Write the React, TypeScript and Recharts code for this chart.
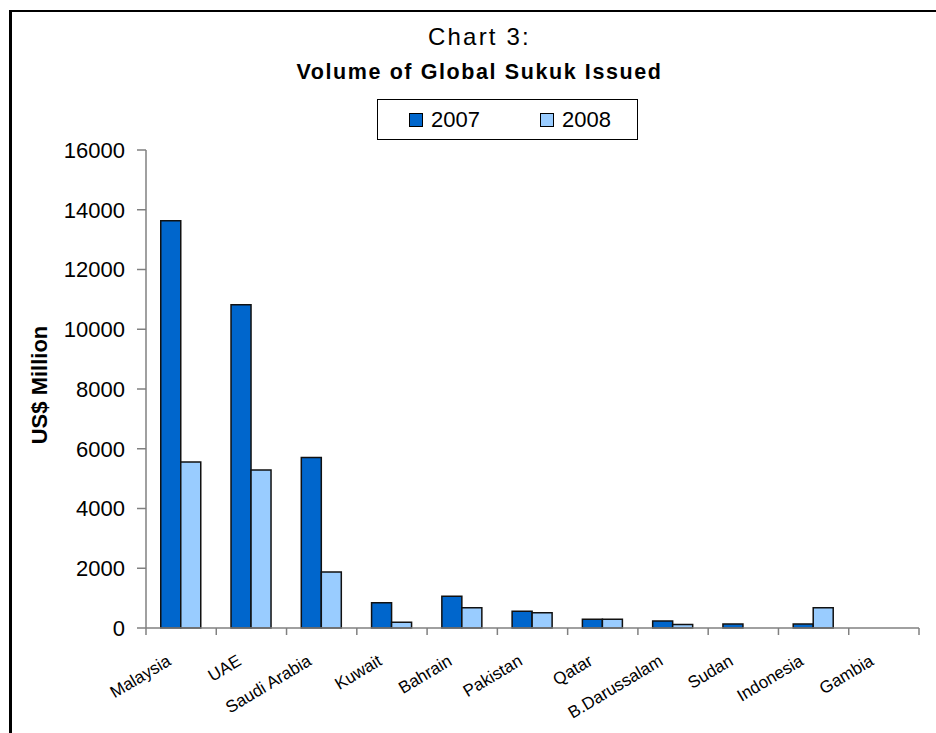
import React from 'react';
import { BarChart, Bar, XAxis, YAxis } from 'recharts';

const categories = ['Malaysia', 'UAE', 'Saudi Arabia', 'Kuwait', 'Bahrain', 'Pakistan', 'Qatar', 'B.Darussalam', 'Sudan', 'Indonesia', 'Gambia'];
const values2007 = [13630, 10820, 5710, 847, 1060, 560, 290, 234, 130, 130, 0];
const values2008 = [5560, 5290, 1875, 190, 680, 512, 290, 120, 0, 680, 0];
const seriesNames = ['2007', '2008'];
const yTicks = [0, 2000, 4000, 6000, 8000, 10000, 12000, 14000, 16000];

const data = categories.map((c, i) => ({ name: c, a: values2007[i], b: values2008[i] }));

const W = 936;
const H = 733;
const PLOT_LEFT = 146;
const PLOT_RIGHT = 919;
const PLOT_TOP = 150;
const PLOT_BOTTOM = 628;
const BAND = (PLOT_RIGHT - PLOT_LEFT) / categories.length;

const FONT = "'Liberation Sans', Arial, Helvetica, sans-serif";
const DARK = '#0066CC';
const LIGHT = '#99CCFF';
const AXIS = '#808080';

const XTick = (props: any) => {
  const { x, y, payload, index } = props;
  const tx = x - 9;
  const ty = y + 36;
  return (
    <g>
      <line x1={x - BAND / 2} x2={x - BAND / 2} y1={y} y2={y + 7} stroke={AXIS} strokeWidth={1.5} />
      {index === categories.length - 1 && (
        <line x1={x + BAND / 2} x2={x + BAND / 2} y1={y} y2={y + 7} stroke={AXIS} strokeWidth={1.5} />
      )}
      <text x={tx} y={ty} textAnchor="end" transform={`rotate(-31, ${tx}, ${ty})`} fontFamily={FONT} fontSize={17} fill="#000">
        {payload.value}
      </text>
    </g>
  );
};

const LegendBox = () => (
  <div
    style={{
      position: 'absolute',
      left: 377,
      top: 99,
      width: 261,
      height: 41,
      boxSizing: 'border-box',
      border: '1.5px solid #000',
      fontFamily: FONT,
      fontSize: 22,
      background: '#fff',
    }}
  >
    {[DARK, LIGHT].map((col, i) => (
      <div key={i} style={{ position: 'absolute', left: i === 0 ? 31 : 162, top: 8, display: 'flex', alignItems: 'center', lineHeight: '24px' }}>
        <span style={{ display: 'inline-block', width: 14, height: 14, background: col, border: '1px solid #000', boxSizing: 'border-box', marginRight: 8 }} />
        <span>{seriesNames[i]}</span>
      </div>
    ))}
  </div>
);

export default function App() {
  return (
    <div style={{ position: 'absolute', left: 0, top: 0, width: W, height: H, background: '#fff', overflow: 'hidden' }}>
      <div style={{ position: 'absolute', left: 9, top: 10, width: 1000, height: 1000, borderLeft: '3px solid #000', borderTop: '2.5px solid #000' }} />
      <div style={{ position: 'absolute', left: 0, width: 959, top: 22, textAlign: 'center', fontFamily: FONT, fontSize: 24, letterSpacing: 2.2, lineHeight: '30px' }}>
        Chart 3:
      </div>
      <div style={{ position: 'absolute', left: 0, width: 959, top: 59, textAlign: 'center', fontFamily: FONT, fontSize: 21.5, letterSpacing: 1.6, fontWeight: 'bold', lineHeight: '26px' }}>
        Volume of Global Sukuk Issued
      </div>
      <BarChart
        width={W}
        height={H}
        data={data}
        margin={{ top: PLOT_TOP, right: W - PLOT_RIGHT, bottom: 0, left: 0 }}
        barCategoryGap="21%"
        barGap={0}
        style={{ position: 'absolute', left: 0, top: 0 }}
      >
        <XAxis
          dataKey="name"
          interval={0}
          tickSize={0}
          tickMargin={0}
          height={H - PLOT_BOTTOM}
          axisLine={{ stroke: AXIS, strokeWidth: 1.5 }}
          tickLine={false}
          tick={<XTick />}
        />
        <YAxis
          width={PLOT_LEFT}
          domain={[0, 16000]}
          ticks={yTicks}
          interval={0}
          tickSize={9}
          tickMargin={12}
          axisLine={{ stroke: AXIS, strokeWidth: 1.5 }}
          tickLine={{ stroke: AXIS, strokeWidth: 1.5 }}
          tick={{ fill: '#000', fontSize: 22, fontFamily: FONT }}
          label={() => (
            <text x={47} y={385} transform="rotate(-90, 47, 385)" textAnchor="middle" fontFamily={FONT} fontWeight="bold" fontSize={22} fill="#000">
              US$ Million
            </text>
          )}
        />
        <Bar dataKey="a" name={seriesNames[0]} fill={DARK} stroke="#111" strokeWidth={1.5} isAnimationActive={false} />
        <Bar dataKey="b" name={seriesNames[1]} fill={LIGHT} stroke="#111" strokeWidth={1.5} isAnimationActive={false} />
      </BarChart>
      <LegendBox />
    </div>
  );
}
